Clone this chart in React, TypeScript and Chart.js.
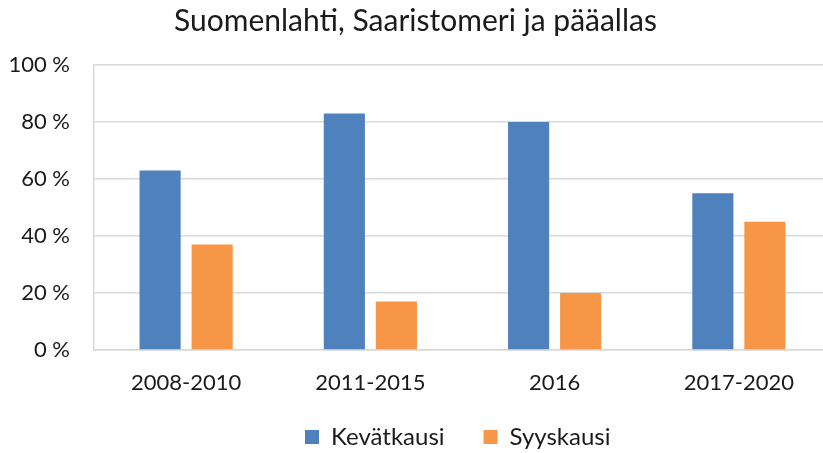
import React, { useEffect, useRef } from "react";
import { Chart, registerables } from "chart.js";

Chart.register(...registerables);

const categories = ["2008-2010", "2011-2015", "2016", "2017-2020"];
const kevatkausi = [63, 83, 80, 55];
const syyskausi = [37, 17, 20, 45];
const yTicks = [0, 20, 40, 60, 80, 100];
const titleText = "Suomenlahti, Saaristomeri ja pääallas";

const FONT = "Lato, 'Open Sans', sans-serif";
const LEGEND_PAD = 39;
const LEGEND_FONT = 24;

const legendPlacer = {
  id: "legendPlacer",
  afterLayout(chart: any) {
    const lg = chart.legend;
    if (!lg || !lg.lineWidths) return;
    const startX = 305;
    const centerY = 437;
    lg.top = centerY - LEGEND_PAD - LEGEND_FONT / 2;
    lg.bottom = 470;
    lg.left = startX - LEGEND_PAD;
    lg.right = startX + lg.lineWidths[0];
  },
};

export default function App() {
  const ref = useRef<HTMLCanvasElement | null>(null);
  useEffect(() => {
    document.body.style.margin = "0";
    const ctx = ref.current!.getContext("2d")!;
    const chart = new Chart(ctx, {
      type: "bar",
      data: {
        labels: categories,
        datasets: [
          {
            label: "Kevätkausi",
            data: kevatkausi,
            backgroundColor: "#4F81BD",
            barPercentage: 0.79,
            categoryPercentage: 0.565,
          },
          {
            label: "Syyskausi",
            data: syyskausi,
            backgroundColor: "#F79646",
            barPercentage: 0.79,
            categoryPercentage: 0.565,
          },
        ],
      },
      options: {
        responsive: false,
        animation: false,
        layout: { padding: { left: 0, right: 9, top: 0, bottom: -18 } },
        plugins: {
          title: {
            display: true,
            text: titleText,
            color: "#1a1a1a",
            font: { family: FONT, size: 30, weight: "normal" },
            padding: { top: 3, bottom: 26 },
          },
          legend: {
            position: "bottom",
            labels: {
              color: "#1a1a1a",
              font: { family: FONT, size: LEGEND_FONT },
              boxWidth: 14,
              boxHeight: 14,
              padding: LEGEND_PAD,
            },
          },
          tooltip: { enabled: false },
        },
        scales: {
          x: {
            grid: { display: false, drawTicks: false },
            border: { display: true, color: "#d9d9d9", width: 1.5 },
            ticks: {
              color: "#1a1a1a",
              font: { family: FONT, size: 22 },
              padding: 20,
            },
            afterFit: (s: any) => {
              s.height = 48;
            },
          },
          y: {
            min: 0,
            max: 100,
            afterBuildTicks: (s: any) => {
              s.ticks = yTicks.map((v) => ({ value: v }));
            },
            grid: { color: "#d9d9d9", lineWidth: 1.5, drawTicks: false },
            border: { display: true, color: "#d9d9d9", width: 1.5 },
            ticks: {
              color: "#1a1a1a",
              font: { family: FONT, size: 22 },
              padding: 24,
              callback: (v: any) => v + " %",
            },
            afterFit: (s: any) => {
              s.width = 94;
            },
          },
        },
      },
      plugins: [legendPlacer],
    });
    return () => chart.destroy();
  }, []);
  return (
    <div
      style={{
        position: "fixed",
        left: 0,
        top: 0,
        width: 823,
        height: 453,
        overflow: "hidden",
        background: "#fff",
      }}
    >
      <canvas ref={ref} width={840} height={453} style={{ display: "block" }} />
    </div>
  );
}
